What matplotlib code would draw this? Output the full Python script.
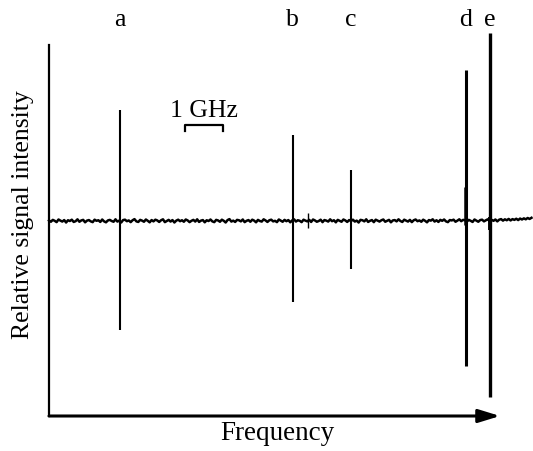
import numpy as np
import matplotlib
matplotlib.use('Agg')
import matplotlib.pyplot as plt

plt.rcParams['font.family'] = ['Liberation Serif', 'DejaVu Serif']

# line positions (GHz from left axis) and dispersive peak heights (relative)
peak_labels = ['a', 'b', 'c', 'd', 'e']
peak_freq = [1.87, 6.42, 7.95, 10.97, 11.61]
peak_top = [0.59, 0.457, 0.271, 0.803, 1.0]
peak_bottom = [-0.58, -0.431, -0.255, -0.771, -0.936]
peak_width = [1.5, 1.5, 1.5, 2.2, 2.4]

# weak extra features
small_freq = [6.82, 10.955, 11.595]
small_top = [0.043, 0.18, 0.02]
small_bottom = [-0.037, -0.02, -0.05]
small_width = [1.0, 1.8, 2.8]

# baseline noise, read by eye (relative units), sampled every 0.05 GHz
noise = [0.003, -0.004, 0.006, 0.001, -0.006, 0.008, 0.002, -0.003, 0.005, -0.008,
         0.004, 0.000, 0.007, -0.005, -0.001, 0.009, -0.004, 0.003, 0.006, -0.007,
         0.002, 0.005, -0.002, -0.006, 0.007, 0.001, 0.004, -0.005, 0.008, -0.002,
         -0.007, 0.003, 0.006, 0.000, -0.004, 0.009, -0.003, 0.002, -0.008, 0.005,
         0.007, -0.001, 0.003, -0.006, 0.004, 0.010, -0.002, -0.005, 0.006, 0.002,
         -0.004, 0.008, 0.001, -0.007, 0.005, -0.002, 0.007, 0.003, -0.005, 0.004,
         0.009, -0.006, 0.000, 0.006, -0.003, 0.005, -0.008, 0.002, 0.007, -0.001,
         0.004, -0.004, 0.008, 0.003, -0.006, 0.001, 0.006, -0.003, 0.009, -0.005,
         0.002, 0.005, -0.007, 0.004, 0.000, 0.008, -0.002, -0.006, 0.006, 0.003,
         -0.004, 0.007, 0.001, -0.008, 0.005, 0.010, -0.003, 0.002, -0.005, 0.006,
         0.004, -0.002, 0.008, -0.006, 0.001, 0.005, -0.004, 0.007, 0.002, -0.007,
         0.006, 0.000, -0.003, 0.009, 0.003, -0.005, 0.004, 0.007, -0.002, 0.001,
         -0.006, 0.008, 0.002, -0.004, 0.006, -0.001, 0.005, -0.007, 0.003, 0.009,
         -0.003, 0.004, 0.001, -0.006, 0.007, 0.002, -0.002, 0.006, -0.005, 0.008,
         0.003, -0.004, 0.000, 0.007, -0.006, 0.005, 0.002, -0.003, 0.009, -0.001,
         0.004, -0.007, 0.006, 0.001, -0.004, 0.008, 0.003, -0.005, 0.005, 0.000,
         0.007, -0.003, 0.002, -0.008, 0.006, 0.004, -0.002, 0.009, -0.005, 0.001,
         0.005, -0.006, 0.007, 0.002, -0.003, 0.004, 0.008, -0.004, 0.001, 0.006,
         -0.007, 0.003, 0.005, -0.002, 0.009, 0.000, -0.005, 0.007, 0.002, -0.003,
         0.006, -0.006, 0.004, 0.008, -0.001, 0.003, -0.004, 0.007, 0.001, -0.007,
         0.005, 0.002, 0.009, -0.003, 0.004, -0.005, 0.006, 0.001, 0.008, -0.002,
         -0.006, 0.005, 0.003, 0.007, -0.004, 0.002, 0.009, -0.001, 0.006, 0.004,
         -0.003, 0.006, 0.001, -0.005, 0.008, 0.002, -0.004, 0.005, 0.007, -0.002,
         0.004, 0.009, -0.001, 0.006, 0.001, 0.008, -0.002, 0.007, 0.010, 0.002,
         0.009, 0.004, 0.011, 0.003, 0.010, 0.006, 0.012, 0.005, 0.013, 0.008,
         0.014, 0.009, 0.016, 0.011, 0.017]
noise_freq = np.arange(len(noise)) * 0.05

scale_start, scale_len = 3.58, 1.0  # 1 GHz bar

fig = plt.figure(figsize=(5.33, 4.51), dpi=100)
ax = fig.add_axes([49 / 533, 35 / 451, 484 / 533, 371 / 451])
ax.set_xlim(0, 12.74)
ax.set_ylim(-1.037, 0.936)

ax.plot(noise_freq, noise, color='black', lw=1.8, clip_on=False)
for f, t, b, w in zip(peak_freq, peak_top, peak_bottom, peak_width):
    ax.vlines(f, b, t, color='black', lw=w, clip_on=False)
for f, t, b, w in zip(small_freq, small_top, small_bottom, small_width):
    ax.vlines(f, b, t, color='black', lw=w, clip_on=False)

for lab, f in zip(peak_labels, peak_freq):
    ax.text(f, 1.07, lab, ha='center', va='center', fontsize=18.5)

# 1 GHz scale bar
sx = [scale_start, scale_start, scale_start + scale_len, scale_start + scale_len]
sy = [0.48, 0.51, 0.51, 0.48]
ax.plot(sx, sy, color='black', lw=1.6)
ax.text(scale_start + scale_len / 2, 0.585, '1 GHz', ha='center', va='center',
        fontsize=18.5)

for s in ['top', 'right', 'bottom']:
    ax.spines[s].set_visible(False)
ax.spines['left'].set_linewidth(1.6)
ax.set_xticks([])
ax.set_yticks([])
ax.patch.set_alpha(0)

ax.annotate('', xy=(451 / 484, 0), xytext=(0, 0), xycoords='axes fraction',
            arrowprops=dict(arrowstyle='-|>,head_length=1.3,head_width=0.4',
                            lw=2.2, color='black', mutation_scale=10,
                            shrinkA=0, shrinkB=0))

fig.text(23 / 533, 1 - 215 / 451, 'Relative signal intensity', rotation=90,
         ha='center', va='center', fontsize=18.5)
fig.text(277 / 533, 1 - 433 / 451, 'Frequency', ha='center', va='center',
         fontsize=19.5)

fig.savefig('out.png', dpi=100)
